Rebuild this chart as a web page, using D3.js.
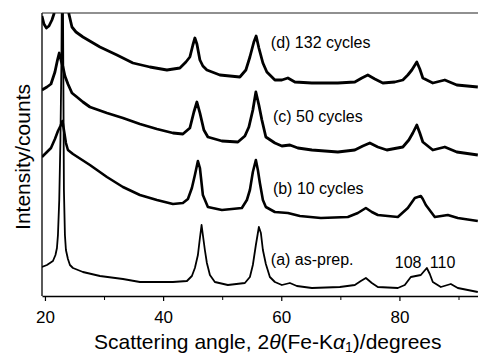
<!DOCTYPE html>
<html>
<head>
<meta charset="utf-8">
<script src="https://cdn.jsdelivr.net/npm/d3@7"></script>
<style>
  body { margin: 0; background: #fff; }
  svg { display: block; font-family: "Liberation Sans", Arial, sans-serif; }
</style>
</head>
<body>
<svg id="chart" width="478" height="355"></svg>
<script>
// [2theta (degrees), intensity (arb. counts)]
const cycles132 = [
  [19.49, 280], [19.83, 272], [20.25, 268], [20.68, 270], [21.18, 276], [21.52, 282],
  [21.86, 306], [22.71, 496], [23.81, 306], [24.06, 282], [24.57, 269], [25.25, 264],
  [26.43, 259], [29.31, 249], [32.18, 241], [34.89, 233], [37.77, 229], [40.64, 226],
  [42.84, 228], [43.86, 234], [44.53, 239], [45.04, 251], [45.38, 258], [45.72, 252],
  [46.23, 236], [46.73, 230], [47.41, 226], [49.61, 221], [52.99, 219], [54.01, 226],
  [54.69, 239], [55.36, 254], [55.75, 260], [56.21, 248], [56.89, 233], [57.56, 224],
  [58.92, 216], [60.1, 216], [61.12, 218], [62.3, 214], [65.18, 213], [69.58, 213],
  [72.45, 214], [73.64, 218], [74.65, 221], [75.84, 217], [77.19, 213], [79.22, 214],
  [80.58, 216], [81.42, 221], [82.1, 226], [82.94, 234], [83.45, 227], [83.96, 218],
  [85.65, 213], [87.68, 216], [89.71, 211], [93.27, 209]
];
const cycles50 = [
  [19.49, 206], [20.34, 209], [21.02, 212], [21.69, 224], [22.12, 236], [22.42, 243],
  [22.71, 236], [23.05, 229], [23.38, 220], [23.89, 212], [24.57, 203], [25.41, 199],
  [26.43, 194], [27.61, 189], [30.49, 183], [33.2, 178], [36.07, 172], [38.95, 167],
  [41.66, 163], [43.35, 162], [44.53, 168], [45.21, 184], [45.72, 194], [46.23, 183],
  [46.9, 166], [47.58, 159], [49.95, 155], [52.66, 154], [53.84, 160], [54.52, 169],
  [55.19, 186], [55.7, 204], [56.21, 191], [56.72, 176], [57.39, 159], [58.92, 153],
  [60.1, 150], [61.46, 151], [62.81, 148], [65.18, 146], [69.58, 144], [72.45, 146],
  [73.81, 150], [74.99, 153], [76.34, 149], [77.87, 146], [80.58, 149], [81.59, 156],
  [82.27, 163], [82.94, 171], [83.45, 163], [83.96, 154], [85.65, 146], [87.68, 149],
  [89.71, 144], [93.27, 141]
];
const cycles10 = [
  [19.49, 139], [20.34, 144], [21.02, 148], [21.69, 157], [22.2, 165], [22.62, 170],
  [22.96, 175], [23.21, 166], [23.55, 153], [23.89, 146], [24.74, 142], [27.61, 131],
  [30.49, 119], [33.2, 109], [36.07, 101], [38.95, 96], [41.66, 92], [43.35, 93],
  [44.2, 97], [44.87, 108], [45.38, 121], [45.89, 135], [46.23, 128], [46.73, 101],
  [47.58, 89], [49.95, 86], [53.33, 88], [54.18, 96], [54.69, 106], [55.19, 124],
  [55.7, 136], [56.04, 126], [56.38, 113], [56.89, 96], [57.39, 89], [58.92, 84],
  [61.12, 83], [63.15, 80], [66.7, 78], [71.27, 79], [72.96, 83], [74.32, 88],
  [75.33, 84], [76.34, 81], [79.73, 79], [81.42, 88], [82.61, 98], [83.62, 100],
  [83.96, 97], [84.47, 91], [85.99, 79], [88.19, 81], [89.88, 78], [93.27, 75]
];
const asPrep = [
  [19.49, 29], [20.34, 31], [21.35, 35], [21.78, 41], [22.03, 48], [22.2, 61],
  [22.42, 96], [22.62, 156], [22.79, 236], [22.96, 396], [23.1, 236], [23.21, 106],
  [23.38, 61], [23.55, 46], [23.89, 37], [24.23, 31], [24.74, 28], [26.43, 24],
  [29.31, 20], [33.2, 17], [36.07, 14], [41.66, 14], [44.03, 15], [44.87, 20],
  [45.38, 28], [45.89, 41], [46.23, 58], [46.51, 71], [46.73, 61], [47.07, 46],
  [47.41, 33], [47.92, 21], [48.76, 14], [50.96, 11], [53.84, 13], [54.69, 19],
  [55.19, 31], [55.7, 51], [56.21, 69], [56.55, 63], [56.89, 46], [57.39, 32],
  [58.07, 19], [58.92, 14], [60.1, 11], [61.46, 13], [62.64, 10], [65.18, 8],
  [69.92, 9], [72.45, 11], [73.47, 15], [74.32, 18], [75.33, 13], [76.34, 9],
  [79.73, 8], [80.91, 11], [81.93, 19], [82.77, 20], [83.62, 21], [84.64, 28],
  [85.14, 22], [85.65, 14], [87.01, 9], [88.7, 12], [89.88, 8], [93.27, 4]
];

const seriesNames = ['(d) 132 cycles', '(c) 50 cycles', '(b) 10 cycles', '(a) as-prep.'];
// where each label sits, in [2theta, counts]
const seriesLabelAt = [[58.24, 248], [58.58, 174], [58.58, 102], [58.24, 31]];
const peakNames = ['108', '110'];
const peakLabelAt = [[79.22, 28], [85.14, 28]];
const majorTicks = [20, 40, 60, 80];
const minorTicks = [30, 50, 70, 90];

const margin = { top: 13, right: 0, bottom: 59, left: 42 };
const width = 478 - margin.left - margin.right;
const height = 355 - margin.top - margin.bottom;

const svg = d3.select('#chart');
const g = svg.append('g').attr('transform', `translate(${margin.left},${margin.top})`);

const x = d3.scaleLinear().domain([19.5, 93.3]).range([0, width]);
const y = d3.scaleLinear().domain([0, 283]).range([height, 0]);

g.append('clipPath').attr('id', 'plotArea')
  .append('rect').attr('width', width).attr('height', height);

const line = d3.line().x(d => x(d[0])).y(d => y(d[1]));

const curves = [cycles132, cycles50, cycles10, asPrep];
const widths = [2.8, 2.8, 2.6, 1.8];
g.append('g').attr('clip-path', 'url(#plotArea)')
  .selectAll('path')
  .data(curves)
  .enter()
  .append('path')
  .attr('d', line)
  .attr('fill', 'none')
  .attr('stroke', '#000')
  .attr('stroke-width', (d, i) => widths[i])
  .attr('stroke-linejoin', 'round');

// frame: left, top, bottom
g.append('line').attr('x1', 0).attr('x2', 0).attr('y1', 0).attr('y2', height)
  .attr('stroke', '#000').attr('stroke-width', 1.3);
g.append('line').attr('x1', 0).attr('x2', width).attr('y1', 0).attr('y2', 0)
  .attr('stroke', '#222').attr('stroke-width', 1.2);

const xAxis = d3.axisBottom(x)
  .tickValues(majorTicks)
  .tickSizeInner(5)
  .tickSizeOuter(0)
  .tickPadding(10)
  .tickFormat(d3.format('d'));

const ax = g.append('g')
  .attr('transform', `translate(0,${height})`)
  .call(xAxis);
ax.select('.domain').attr('stroke-width', 1.3);
ax.selectAll('.tick line').attr('stroke-width', 1.2);
ax.selectAll('text')
  .attr('font-size', '17px')
  .attr('fill', '#000')
  .attr('font-family', '"Liberation Sans", Arial, sans-serif');

g.append('g')
  .attr('transform', `translate(0,${height})`)
  .call(d3.axisBottom(x).tickValues(minorTicks).tickSize(4).tickFormat(''))
  .call(s => s.select('.domain').remove());

// series labels
g.selectAll('.series-label')
  .data(seriesNames)
  .enter()
  .append('text')
  .attr('class', 'series-label')
  .attr('x', (d, i) => x(seriesLabelAt[i][0]))
  .attr('y', (d, i) => y(seriesLabelAt[i][1]))
  .attr('font-size', '16px')
  .text(d => d);

g.selectAll('.peak-label')
  .data(peakNames)
  .enter()
  .append('text')
  .attr('class', 'peak-label')
  .attr('x', (d, i) => x(peakLabelAt[i][0]))
  .attr('y', (d, i) => y(peakLabelAt[i][1]))
  .attr('font-size', '16px')
  .text(d => d);

// axis titles
const xt = svg.append('text')
  .attr('x', 94)
  .attr('y', 349)
  .attr('font-size', '21px');
xt.append('tspan').text('Scattering angle, 2');
xt.append('tspan').attr('font-style', 'italic').text('θ');
xt.append('tspan').text('(Fe-K');
xt.append('tspan').attr('font-style', 'italic').text('α');
xt.append('tspan').attr('font-size', '14px').attr('dy', 3).text('1');
xt.append('tspan').attr('dy', -3).text(')/degrees');

svg.append('text')
  .attr('transform', 'translate(30,157) rotate(-90)')
  .attr('text-anchor', 'middle')
  .attr('font-size', '21px')
  .text('Intensity/counts');
</script>
</body>
</html>
